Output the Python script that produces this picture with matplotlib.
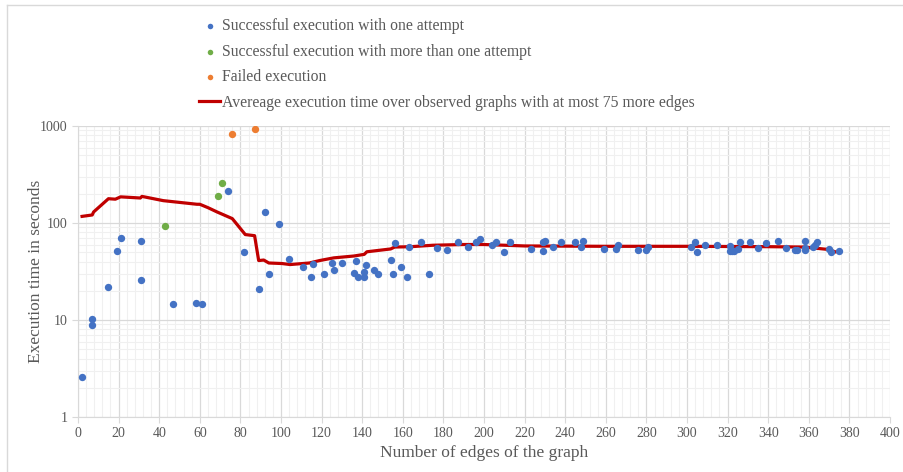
import matplotlib.pyplot as plt
import numpy as np
from matplotlib.ticker import MultipleLocator, LogLocator, FixedLocator, FixedFormatter

# successful, one attempt
oneX = [2, 7, 7, 15, 19, 21, 31, 31, 47, 58, 61, 74, 82, 89, 92, 94, 99, 104,
        111, 116, 115, 121, 125, 126, 130, 137, 136, 138, 141, 141, 142, 146, 148,
        154, 155, 156, 159, 162, 163, 169, 173, 177, 182, 187, 192, 196, 198,
        204, 206, 210, 213, 223, 229, 230, 229, 234, 238, 245, 249, 248, 259,
        265, 266, 276, 280, 281, 302, 304, 305, 309, 315, 321, 321, 323, 325,
        322, 326, 331, 335, 339, 345, 349, 353, 354, 358, 358, 358, 362, 363,
        364, 370, 371, 375]
oneY = [2.6, 10.3, 8.8, 22, 52, 70, 66, 26, 14.7, 15, 14.7, 215, 50, 20.8, 130, 30, 97, 43,
        35.5, 38, 28, 29.7, 38.8, 33, 39, 41, 30.5, 28, 27.5, 31, 37, 33, 30,
        41.8, 29.7, 62, 35, 28, 56, 63, 30, 55.5, 52.5, 63, 57, 64, 68,
        59.5, 64, 50, 63, 54.5, 63, 65, 51.5, 57, 63, 63, 65, 57, 54,
        54, 60, 53, 53, 57, 57, 64, 50.5, 60, 59.5, 58, 52, 52, 54,
        51.5, 63, 63, 55.5, 61.5, 65, 55.5, 53, 52.5, 66, 55.5, 53, 57, 60,
        63, 54.5, 50.5, 51.5]

# successful, more than one attempt
multiX = [43, 69, 71]
multiY = [93, 188, 260]

# failed
failX = [76, 87]
failY = [830, 940]

# moving average
avgX = [2, 7, 7.7, 15, 18.4, 21, 30.7, 31.5, 42, 58.6, 60, 64, 68.5, 76, 82.4, 87,
        89, 91.5, 94, 100.5, 104.5, 114, 119, 126, 136, 141, 142.3, 154, 156, 164,
        175, 190, 200, 220, 260, 300, 340, 358, 369, 373]
avgY = [117, 121, 130, 178, 176, 186, 181, 188, 170, 156, 156, 144, 130, 111, 76, 74,
        41, 41.5, 38.7, 38.2, 37.3, 38.7, 41, 43.7, 45.7, 47.5, 50.5, 54, 56.5, 57,
        59, 60, 60, 58, 57.5, 57.5, 57, 56.5, 53.5, 50.5]

txt = '#595959'
plt.rcParams['font.family'] = ['Liberation Serif', 'DejaVu Serif']

fig = plt.figure(figsize=(9.04, 4.72), dpi=100)
ax = fig.add_axes([78/904, 1-417/472, 812/904, 291/472])

ax.set_yscale('log')
ax.set_xlim(0, 400)
ax.set_ylim(1, 1000)

ax.xaxis.set_major_locator(MultipleLocator(20))
ax.xaxis.set_minor_locator(MultipleLocator(4))
ax.yaxis.set_major_locator(FixedLocator([1, 10, 100, 1000]))
ax.yaxis.set_major_formatter(FixedFormatter(['1', '10', '100', '1000']))
ax.yaxis.set_minor_locator(LogLocator(base=10, subs=np.arange(2, 10)))
ax.yaxis.set_minor_formatter(plt.NullFormatter())

ax.grid(which='major', color='#d9d9d9', lw=0.9)
ax.grid(which='minor', color='#f0f0f0', lw=0.8)
ax.set_axisbelow(True)

for s in ['top', 'right']:
    ax.spines[s].set_visible(False)
for s in ['left', 'bottom']:
    ax.spines[s].set_color('#d9d9d9')
ax.tick_params(which='major', length=4, color='#d9d9d9', labelcolor=txt, labelsize=10)
ax.tick_params(which='minor', length=0)

ax.plot(avgX, avgY, color='#c00000', lw=2.3, zorder=2,
        label='Avereage execution time over observed graphs with at most 75 more edges')
ax.scatter(oneX, oneY, s=28, color='#4472c4', zorder=3, linewidths=0,
           label='Successful execution with one attempt')
ax.scatter(multiX, multiY, s=28, color='#70ad47', zorder=3, linewidths=0,
           label='Successful execution with more than one attempt')
ax.scatter(failX, failY, s=28, color='#ed7d31', zorder=3, linewidths=0,
           label='Failed execution')

ax.set_xlabel('Number of edges of the graph', color=txt, fontsize=12.5, labelpad=3)
ax.set_ylabel('Execution time in seconds', color=txt, fontsize=12.5, labelpad=-3)

h, l = ax.get_legend_handles_labels()
order = [1, 2, 3, 0]
leg = fig.legend([h[i] for i in order], [l[i] for i in order],
                 loc='upper left', bbox_to_anchor=(193/904, 1-12/472),
                 frameon=False, fontsize=11.3, labelcolor=txt,
                 markerscale=0.75, handlelength=1.35, handletextpad=0.1,
                 labelspacing=0.6, borderaxespad=0)

# chart frame
fig.add_artist(plt.Line2D([7/904, 7/904], [0, 1-5/472], color='#d9d9d9', lw=1))
fig.add_artist(plt.Line2D([7/904, 1], [1-5/472, 1-5/472], color='#d9d9d9', lw=1))

fig.savefig('out.png', dpi=100)
